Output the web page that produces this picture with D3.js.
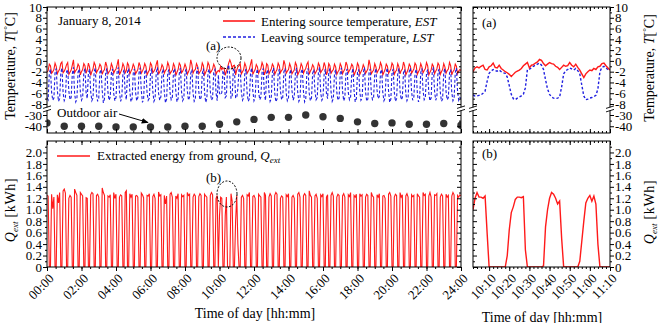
<!DOCTYPE html>
<html>
<head>
<meta charset="utf-8">
<script src="https://cdn.jsdelivr.net/npm/d3@7"></script>
<style>
  body { margin: 0; background: #fff; }
  svg { display: block; font-family: 'Liberation Serif', 'Times New Roman', serif; }
</style>
</head>
<body>
<div id="chart"></div>
<script>
// whole day, one reading every 4 minutes (00:00 .. 24:00)
var dayStepMin = 4

var dayQext = [
  1.25,1.24,0,0,1.27,1.02,1.22,0,0,1.26,1.12,1.30,0,0,1.33,
  1.36,1.29,0,0,1.20,1.25,1.22,0,0,1.36,1.30,1.25,0,0,1.30,
  1.27,1.24,0,0,1.21,1.20,0,0,1.26,1.30,1.28,0,0,1.25,1.27,
  1.22,0,0,1.38,1.30,1.25,0,0,1.24,1.22,1.26,0,0,1.30,1.20,
  1.27,0,0,1.22,1.26,1.24,0,0,1.30,1.33,0,0,1.28,1.22,1.27,
  0,0,1.24,1.25,1.22,0,0,1.29,1.26,1.21,0,0,1.25,1.24,1.28,
  0,0,1.23,1.27,1.20,0,0,1.31,1.24,1.26,0,0,1.25,1.10,1.24,
  0,0,1.27,1.30,1.22,0,0,1.24,1.20,1.28,0,0,1.26,1.23,1.25,
  0,0,1.30,1.25,1.27,0,0,1.22,1.27,1.24,0,0,1.23,1.28,1.25,
  0,0,1.27,1.24,1.22,0,0,1.25,1.30,1.26,0,0,1.20,1.25,0,
  0.90,1.22,1.20,0,0,0.90,1.22,0,0,0,1.28,1.15,0,0,0.80,
  1.25,0.40,0,0,1.22,1.25,1.20,0,0,1.26,1.24,1.30,0,0,1.23,
  1.25,1.20,0,0,1.27,1.24,1.22,0,0,1.30,1.25,0,0,1.22,1.28,
  1.24,0,0,1.25,1.30,1.27,0,0,1.20,1.24,1.22,0,0,1.26,1.23,
  1.28,0,0,1.22,1.25,1.20,0,0,1.27,1.30,1.22,0,0,1.24,1.28,
  1.25,0,0,1.33,1.25,1.22,0,0,1.24,1.27,1.20,0,0,1.26,1.23,
  1.28,0,0,1.22,1.26,0,0,1.25,1.30,1.24,0,0,1.22,1.27,1.25,
  0,0,1.24,1.28,1.22,0,0,1.26,1.23,1.30,0,0,1.25,1.22,1.27,
  0,0,1.28,1.24,1.26,0,0,1.22,1.27,1.25,0,0,1.30,1.24,1.22,
  0,0,1.26,1.22,1.28,0,0,1.24,1.25,1.20,0,0,1.27,1.30,1.24,
  0,0,1.22,1.27,1.25,0,0,1.30,1.22,1.26,0,0,1.24,1.28,1.22,
  0,0,1.26,1.23,1.25,0,0,1.28,1.24,1.22,0,0,1.30,1.25,1.27,
  0,0,1.24,1.30,1.22,0,0,1.26,1.25,1.28,0,0,1.22,1.27,1.24,
  0,0,1.27,1.22,1.25,0,0,1.24,1.30,1.26,0,0,1.25,1.22,1.26,
  1.24
]

var dayEST = [
  -2.1,-1.8,-0.6,-0.9,-2.3,-2.0,-1.6,-0.4,-1.0,-2.4,-1.9,-1.5,-0.5,-0.2,-2.2,
  -1.9,-1.4,-0.7,-0.3,-2.5,-2.1,-1.7,-0.8,0.2,-2.2,-1.8,-1.5,-0.6,-1.0,-2.6,
  -2.0,-1.6,-0.5,-0.9,-2.3,-1.7,-0.4,-1.1,-2.7,-2.0,-1.5,-0.3,-0.8,-2.2,-1.8,
  -1.4,-0.6,-1.0,-2.5,-1.9,-1.6,-0.2,-0.9,-2.4,-2.0,-1.7,-0.5,-1.1,-2.3,-1.8,
  -1.5,-0.7,0.3,-2.6,-2.1,-1.6,-0.5,-1.0,-2.2,-1.8,-0.4,-0.8,-2.5,-1.9,-1.5,
  -0.6,-1.1,-2.4,-2.0,-1.6,-0.3,-0.9,-2.3,-1.9,-1.4,-0.5,-1.0,-2.6,-2.1,-1.7,
  -0.4,-0.8,-2.2,-1.9,-1.5,-0.6,0.1,-2.5,-2.0,-1.6,-0.7,-1.1,-2.3,-1.8,-1.5,
  -0.3,-0.9,-2.4,-2.0,-1.7,-0.5,-1.0,-2.7,-2.1,-1.6,-0.4,-0.8,-2.2,-1.9,-1.4,
  -0.6,-1.2,-2.5,-2.0,-1.5,0.2,-0.7,-2.3,-1.8,-1.6,-0.5,-1.0,-2.4,-2.0,-1.7,
  -0.4,-0.9,-2.6,-2.1,-1.6,-0.3,-0.8,-2.2,-1.9,-1.5,-0.6,-1.1,-2.5,-2.0,-1.8,
  -2.0,-1.0,-1.6,-1.3,-1.4,-2.7,-1.9,-1.3,-0.4,0.2,-0.4,-1.4,-0.9,-0.8,-2.6,
  -1.7,-1.1,-0.9,-0.5,-2.4,-2.0,-1.6,-0.4,-1.0,-2.3,-1.9,-1.5,-0.6,0.3,-2.5,
  -2.0,-1.6,-0.7,-1.1,-2.3,-1.8,-1.4,-0.3,-0.9,-2.6,-2.0,-0.5,-0.8,-2.4,-1.9,
  -1.5,-0.6,-1.0,-2.5,-2.0,-1.6,-0.4,-0.9,-2.2,-1.8,-1.5,0.1,-0.7,-2.3,-1.9,
  -1.6,-0.5,-1.1,-2.4,-2.0,-1.7,-0.3,-0.8,-2.6,-2.1,-1.6,-0.5,-1.0,-2.3,-1.8,
  -1.4,-0.6,-0.2,-2.5,-1.9,-1.5,-0.7,-1.1,-2.4,-2.0,-1.6,-0.4,-0.9,-2.2,-1.8,
  -1.5,-0.3,-1.0,-2.6,-2.0,-0.5,-0.9,-2.3,-1.9,-1.6,-0.6,-1.1,-2.5,-2.0,-1.7,
  -0.5,-1.0,-2.4,-1.9,-1.5,-0.2,-0.8,-2.2,-1.8,-1.4,-0.6,-1.0,-2.7,-2.1,-1.6,
  -0.4,-0.9,-2.5,-2.0,-1.6,-0.7,-1.2,-2.3,-1.9,-1.5,0.2,-0.8,-2.4,-2.0,-1.7,
  -0.5,-1.1,-2.2,-1.8,-1.4,-0.3,-0.9,-2.6,-2.1,-1.6,-0.6,-1.0,-2.3,-1.9,-1.5,
  -0.4,-0.8,-2.5,-2.0,-1.7,-0.5,-1.1,-2.4,-1.8,-1.5,-0.2,-0.9,-2.6,-2.1,-1.6,
  -0.6,-1.0,-2.3,-1.9,-1.5,-0.4,-0.8,-2.5,-2.0,-1.6,-0.5,-1.1,-2.2,-1.8,-1.4,
  -0.3,-0.9,-2.6,-2.1,-1.7,-0.6,-1.0,-2.4,-1.9,-1.5,-0.4,-0.8,-2.5,-2.0,-1.6,
  -0.5,-1.1,-2.3,-1.8,-1.5,-0.3,-0.9,-2.6,-2.0,-1.7,-0.6,-1.0,-2.4,-1.9,-1.6,
  -1.8
]

var dayLST = [
  -6.8,-7.2,-2.3,-1.5,-5.8,-7.3,-6.9,-2.1,-1.4,-5.5,-7.5,-7.0,-2.2,-1.3,-5.9,
  -7.4,-6.9,-2.0,-1.6,-5.6,-7.2,-6.8,-2.4,-1.2,-6.0,-7.6,-7.1,-2.1,-1.5,-5.7,
  -7.3,-6.8,-2.2,-1.4,-5.9,-7.0,-2.3,-1.5,-5.7,-7.4,-6.9,-2.0,-1.3,-6.1,-7.5,
  -6.9,-2.1,-1.6,-5.5,-7.8,-7.0,-2.3,-1.4,-5.8,-7.3,-6.7,-2.2,-1.5,-6.0,-7.4,
  -6.8,-2.0,-1.2,-5.7,-7.5,-6.9,-2.4,-1.6,-6.1,-7.2,-2.1,-1.4,-5.6,-7.6,-7.0,
  -2.3,-1.5,-5.8,-7.4,-6.8,-2.2,-1.3,-5.5,-7.7,-7.1,-2.0,-1.6,-5.9,-7.3,-6.9,
  -2.4,-1.4,-5.6,-7.5,-7.0,-2.1,-1.2,-6.0,-7.3,-6.7,-2.3,-1.5,-5.7,-7.8,-7.1,
  -2.2,-1.6,-5.9,-7.2,-6.8,-2.0,-1.4,-5.6,-7.6,-7.0,-2.4,-1.3,-5.8,-7.4,-6.9,
  -2.1,-1.5,-5.5,-7.3,-6.7,-2.3,-1.6,-6.0,-7.5,-7.1,-2.2,-1.2,-5.7,-7.2,-6.8,
  -2.4,-1.4,-5.8,-7.7,-7.0,-2.1,-1.5,-5.6,-7.3,-6.9,-2.0,-1.6,-6.0,-7.4,-2.6,
  -6.0,-6.3,-5.9,-1.8,-2.3,-6.8,-6.5,-1.5,-0.7,-3.0,-6.9,-6.8,-1.6,-1.4,-6.8,
  -6.9,-5.0,-1.6,-1.4,-5.7,-7.3,-6.8,-2.2,-1.5,-5.9,-7.5,-7.0,-2.1,-1.3,-5.6,
  -7.4,-6.9,-2.3,-1.5,-5.8,-7.2,-6.7,-2.0,-1.4,-6.1,-7.3,-2.2,-1.6,-5.7,-7.5,
  -7.0,-2.1,-1.3,-5.9,-7.6,-7.1,-2.4,-1.5,-5.6,-7.2,-6.8,-2.0,-1.4,-6.0,-7.4,
  -6.9,-2.3,-1.6,-5.5,-7.3,-6.7,-2.2,-1.3,-5.8,-7.5,-7.0,-2.1,-1.5,-5.7,-7.6,
  -7.1,-2.0,-1.4,-6.0,-7.4,-6.9,-2.3,-1.6,-5.6,-7.2,-6.8,-2.2,-1.2,-5.9,-7.3,
  -6.8,-2.4,-1.5,-6.1,-7.0,-2.1,-1.4,-5.7,-7.5,-7.0,-2.3,-1.6,-5.8,-7.3,-6.9,
  -2.2,-1.3,-5.6,-7.4,-6.8,-2.0,-1.5,-5.9,-7.2,-6.7,-2.4,-1.4,-5.5,-7.6,-7.0,
  -2.1,-1.6,-5.8,-7.3,-6.9,-2.3,-1.2,-5.7,-7.5,-7.1,-2.2,-1.5,-6.0,-7.2,-6.8,
  -2.4,-1.4,-5.5,-7.0,-6.6,-2.1,-1.6,-5.9,-7.4,-6.9,-2.0,-1.3,-5.6,-7.7,-7.1,
  -2.2,-1.5,-5.8,-7.5,-7.0,-2.3,-1.4,-5.6,-7.2,-6.8,-2.1,-1.6,-6.1,-7.4,-6.9,
  -2.0,-1.3,-5.7,-7.3,-6.7,-2.4,-1.5,-5.9,-7.6,-7.0,-2.2,-1.4,-5.5,-7.2,-6.8,
  -2.3,-1.6,-6.0,-7.4,-6.9,-2.1,-1.2,-5.6,-7.3,-6.7,-2.0,-1.5,-5.8,-7.5,-7.1,
  -2.1,-1.4,-5.7,-7.2,-6.8,-2.3,-1.6,-5.9,-7.4,-6.9,-2.2,-1.3,-5.6,-7.3,-6.8,
  -7.0
]

// outdoor air, hourly
var outdoorHour = [0,1,2,3,4,5,6,7,8,9,10,11,12,13,14,15,16,17,18,19,20,21,22,23,24]
var outdoorAir = [-37.0,-40.0,-40.0,-40.0,-40.6,-40.6,-40.6,-40.6,-40.0,-40.0,-38.2,-36.1,-33.9,
  -32.1,-32.1,-30.0,-31.5,-33.0,-36.1,-37.5,-37.0,-38.2,-38.2,-37.5,-39.1]

// zoomed window, one reading per minute from 10:02
var zoomStartMin = 602
var zoomQext = [
  1.0,1.2,1.3,1.22,1.22,1.2,1.24,0.6,0,0,
  0,0,0,0,0,0,0,0.2,0.65,0.95,
  1.05,1.18,1.22,1.22,1.21,1.23,0.3,0,0,0,
  0,0,0,0,0,0.02,0.7,1.0,1.2,1.3,
  1.27,1.2,1.1,1.15,0.5,0,0,0,0,0,
  0,0,0,0.1,0.45,0.8,1.12,1.2,1.25,1.15,
  1.24,1.1,0.4,0,0,0,0,0,0
]
var zoomEST = [
  -2.0,-1.3,-1.1,-1.3,-1.0,-0.8,-1.6,-1.7,-1.1,-0.9,
  -0.4,-1.2,-1.3,-0.8,-1.4,-1.7,-2.0,-2.2,-2.5,-2.9,
  -2.5,-2.1,-1.9,-1.7,-1.4,-0.9,-0.6,-0.3,-1.3,-0.8,
  -0.7,-0.4,-0.2,0.3,0.1,-0.5,-0.9,-0.6,-0.3,-0.5,
  -0.6,-1.0,-1.2,-1.6,-1.2,-0.8,-1.0,-0.9,-0.3,-0.8,
  -1.1,-0.6,-1.2,-1.7,-2.4,-3.1,-2.4,-2.0,-1.7,-1.8,
  -1.4,-1.6,-1.1,-1.0,-0.5,-0.4,-0.9,-1.3,-1.7
]
var zoomLST = [
  -6.3,-6.5,-6.5,-6.4,-6.3,-6.0,-5.6,-3.8,-2.3,-1.9,
  -1.6,-1.8,-1.9,-1.7,-2.0,-2.2,-2.3,-3.0,-4.6,-6.2,
  -7.0,-7.2,-6.9,-6.7,-6.5,-6.2,-5.0,-1.6,-1.5,-1.3,
  -1.0,-0.8,-0.6,-0.4,-0.8,-1.6,-3.5,-5.2,-6.2,-6.7,
  -6.9,-7.0,-6.9,-6.7,-4.8,-2.4,-1.8,-1.6,-1.3,-1.5,
  -1.7,-1.4,-1.8,-2.4,-4.5,-6.5,-7.2,-7.1,-6.9,-6.8,
  -6.6,-6.4,-5.2,-2.0,-1.2,-1.0,-1.3,-1.6,-1.8
]

var tempTicks = [10, 8, 6, 4, 2, 0, -2, -4, -6, -8, -30, -40]
var tempMinor = [9, 7, 5, 3, 1, -1, -3, -5, -7, -35]
var qTicks = [0, 0.2, 0.4, 0.6, 0.8, 1.0, 1.2, 1.4, 1.6, 1.8, 2.0]
var qMinor = [0.1, 0.3, 0.5, 0.7, 0.9, 1.1, 1.3, 1.5, 1.7, 1.9, 2.1]
var dayTicks = [0, 120, 240, 360, 480, 600, 720, 840, 960, 1080, 1200, 1320, 1440]
var dayTickLabels = ['00:00','02:00','04:00','06:00','08:00','10:00','12:00','14:00','16:00','18:00','20:00','22:00','24:00']
var zoomTicks = [610, 620, 630, 640, 650, 660, 670]
var zoomTickLabels = ['10:10','10:20','10:30','10:40','10:50','11:00','11:10']

var RED = '#ff1a1a'
var BLUE = '#1f1fe0'

var svg = d3.select('#chart').append('svg').attr('width', 661).attr('height', 323)
  .attr('font-family', 'Liberation Serif, Times New Roman, serif')

var xDay = d3.scaleLinear().domain([0, 1440]).range([47, 461])
var xZoom = d3.scaleLinear().domain([602, 670]).range([473, 610])
// broken temperature axis: 10..-8 on top, -30..-40 squeezed below
var yT = d3.scaleLinear().domain([-46, -30, -9, 10]).range([133, 115, 109.4, 7])
var yQ = d3.scaleLinear().domain([0, 2.2]).range([267, 141])

var panels = [
  {id: 'tl', x0: 47, x1: 461, y0: 7, y1: 133},
  {id: 'bl', x0: 47, x1: 461, y0: 141, y1: 267},
  {id: 'tr', x0: 473, x1: 610, y0: 7, y1: 133},
  {id: 'br', x0: 473, x1: 610, y0: 141, y1: 267}
]

var defs = svg.append('defs')
panels.forEach(function (p) {
  defs.append('clipPath').attr('id', 'clip-' + p.id)
    .append('rect').attr('x', p.x0).attr('y', p.y0).attr('width', p.x1 - p.x0).attr('height', p.y1 - p.y0)
})
defs.append('marker').attr('id', 'arrow').attr('viewBox', '0 0 10 10')
  .attr('refX', 9).attr('refY', 5).attr('markerWidth', 7).attr('markerHeight', 7)
  .attr('orient', 'auto')
  .append('path').attr('d', 'M0,1 L10,5 L0,9 z').attr('fill', '#000')

/**
 * lines
 */

var dayLine = function (y) {
  return d3.line().x(function (d, i) { return xDay(i * dayStepMin) }).y(function (d) { return y(d) })
}
var zoomLine = function (y) {
  return d3.line().x(function (d, i) { return xZoom(zoomStartMin + i) }).y(function (d) { return y(d) })
}

function plot(panelId, data, line, color, width, dash) {
  svg.append('path')
    .attr('clip-path', 'url(#clip-' + panelId + ')')
    .attr('d', line(data))
    .attr('fill', 'none')
    .attr('stroke', color)
    .attr('stroke-width', width)
    .attr('stroke-dasharray', dash || null)
}

plot('tl', dayEST, dayLine(yT), RED, 1.1)
plot('tl', dayLST, dayLine(yT), BLUE, 1.1, '3,2')
plot('bl', dayQext, dayLine(yQ), RED, 1.1)
plot('tr', zoomLST, zoomLine(yT), BLUE, 1.4, '2.5,2')
plot('tr', zoomEST, zoomLine(yT), RED, 1.4)
plot('br', zoomQext, zoomLine(yQ), RED, 1.4)

svg.append('g').selectAll('circle')
  .data(outdoorAir)
  .enter().append('circle')
  .attr('clip-path', 'url(#clip-tl)')
  .attr('cx', function (d, i) { return xDay(outdoorHour[i] * 60) })
  .attr('cy', function (d) { return yT(d) })
  .attr('r', 3.7)
  .attr('fill', '#333')

/**
 * frames and axes
 */

panels.forEach(function (p) {
  svg.append('rect').attr('x', p.x0).attr('y', p.y0).attr('width', p.x1 - p.x0).attr('height', p.y1 - p.y0)
    .attr('fill', 'none').attr('stroke', '#000').attr('stroke-width', 1)
})

function addAxis(axisFn, scale, x, y, values, size, fmt) {
  var ax = axisFn(scale).tickValues(values).tickSize(size).tickSizeOuter(0).tickPadding(1)
    .tickFormat(fmt || function () { return '' })
  var g = svg.append('g').attr('transform', 'translate(' + x + ',' + y + ')').call(ax)
  g.select('.domain').remove()
  g.attr('font-size', 13).attr('font-family', null)
  g.selectAll('text').attr('fill', '#000')
  return g
}

var fmtT = function (d) { return String(d) }
var fmtQ = function (d) { return d === 0 ? '0' : d.toFixed(1) }
var dayMinor = d3.range(0, 1441, 30)
var zoomMinor = d3.range(602, 671, 2)

function rotateLabels(g) {
  g.selectAll('text')
    .attr('x', 0).attr('y', 0).attr('dy', '0.35em')
    .attr('text-anchor', 'end')
    .attr('transform', 'translate(4,9) rotate(-45)')
}

// top left
addAxis(d3.axisLeft, yT, 47, 0, tempTicks, 4, fmtT)
addAxis(d3.axisLeft, yT, 47, 0, tempMinor, 2)
addAxis(d3.axisRight, yT, 461, 0, tempTicks, -4)
addAxis(d3.axisRight, yT, 461, 0, tempMinor, -2)
addAxis(d3.axisTop, xDay, 0, 7, dayTicks, -4)
addAxis(d3.axisTop, xDay, 0, 7, dayMinor, -2)
addAxis(d3.axisBottom, xDay, 0, 133, dayTicks, -4)
addAxis(d3.axisBottom, xDay, 0, 133, dayMinor, -2)

// bottom left
addAxis(d3.axisLeft, yQ, 47, 0, qTicks, 4, fmtQ)
addAxis(d3.axisLeft, yQ, 47, 0, qMinor, 2)
addAxis(d3.axisRight, yQ, 461, 0, qTicks, -4)
addAxis(d3.axisRight, yQ, 461, 0, qMinor, -2)
addAxis(d3.axisTop, xDay, 0, 141, dayTicks, -4)
addAxis(d3.axisTop, xDay, 0, 141, dayMinor, -2)
rotateLabels(addAxis(d3.axisBottom, xDay, 0, 267, dayTicks, 4, function (d, i) { return dayTickLabels[i] }))
addAxis(d3.axisBottom, xDay, 0, 267, dayMinor, 2)

// top right
addAxis(d3.axisRight, yT, 610, 0, tempTicks, 4, fmtT)
addAxis(d3.axisRight, yT, 610, 0, tempMinor, 2)
addAxis(d3.axisLeft, yT, 473, 0, tempTicks, -4)
addAxis(d3.axisLeft, yT, 473, 0, tempMinor, -2)
addAxis(d3.axisTop, xZoom, 0, 7, zoomTicks, -4)
addAxis(d3.axisTop, xZoom, 0, 7, zoomMinor, -2)
addAxis(d3.axisBottom, xZoom, 0, 133, zoomTicks, -4)
addAxis(d3.axisBottom, xZoom, 0, 133, zoomMinor, -2)

// bottom right
addAxis(d3.axisRight, yQ, 610, 0, qTicks, 4, fmtQ)
addAxis(d3.axisRight, yQ, 610, 0, qMinor, 2)
addAxis(d3.axisLeft, yQ, 473, 0, qTicks, -4)
addAxis(d3.axisLeft, yQ, 473, 0, qMinor, -2)
addAxis(d3.axisTop, xZoom, 0, 141, zoomTicks, -4)
addAxis(d3.axisTop, xZoom, 0, 141, zoomMinor, -2)
rotateLabels(addAxis(d3.axisBottom, xZoom, 0, 267, zoomTicks, 4, function (d, i) { return zoomTickLabels[i] }))
addAxis(d3.axisBottom, xZoom, 0, 267, zoomMinor, 2)

// axis break marks
function breakMark(x, y) {
  svg.append('rect').attr('x', x - 4).attr('y', y - 1.5).attr('width', 8).attr('height', 3).attr('fill', '#fff')
  svg.append('path')
    .attr('d', 'M' + (x - 4) + ',' + (y - 0.5) + 'l8,-2.5M' + (x - 4) + ',' + (y + 3) + 'l8,-2.5')
    .attr('stroke', '#000').attr('stroke-width', 0.9).attr('fill', 'none')
}
var breakY = yT(-9) - 0.5
;[47, 461, 473, 610].forEach(function (x) { breakMark(x, breakY) })

/**
 * texts
 */

function label(x, y, size) {
  return svg.append('text').attr('x', x).attr('y', y).attr('font-size', size || 13).attr('fill', '#000')
}

label(58, 25).text('January 8, 2014')

// legends
svg.append('line').attr('x1', 223).attr('x2', 255).attr('y1', 21).attr('y2', 21)
  .attr('stroke', RED).attr('stroke-width', 1.6)
var t1 = label(261, 25.5)
t1.append('tspan').text('Entering source temperature, ')
t1.append('tspan').attr('font-style', 'italic').text('EST')

svg.append('line').attr('x1', 223).attr('x2', 255).attr('y1', 37).attr('y2', 37)
  .attr('stroke', BLUE).attr('stroke-width', 1.4).attr('stroke-dasharray', '3,2')
var t2 = label(261, 41.5)
t2.append('tspan').text('Leaving source temperature, ')
t2.append('tspan').attr('font-style', 'italic').text('LST')

svg.append('line').attr('x1', 57).attr('x2', 90).attr('y1', 156).attr('y2', 156)
  .attr('stroke', RED).attr('stroke-width', 1.6)
var t3 = label(97, 160)
t3.append('tspan').text('Extracted energy from ground, ')
t3.append('tspan').attr('font-style', 'italic').text('Q')
t3.append('tspan').attr('font-style', 'italic').attr('font-size', 9).attr('dy', 3).text('ext')

// markers of zoomed spots
label(206, 50).text('(a)')
svg.append('ellipse').attr('cx', 229).attr('cy', 58).attr('rx', 12).attr('ry', 11)
  .attr('fill', 'none').attr('stroke', '#000').attr('stroke-width', 1).attr('stroke-dasharray', '2,1.5')
label(206, 182).text('(b)')
svg.append('ellipse').attr('cx', 227).attr('cy', 194).attr('rx', 10).attr('ry', 13)
  .attr('fill', 'none').attr('stroke', '#000').attr('stroke-width', 1).attr('stroke-dasharray', '2,1.5')
label(482, 27).text('(a)')
label(482, 158).text('(b)')

label(57, 117).text('Outdoor air')
svg.append('line').attr('x1', 119).attr('y1', 114).attr('x2', 148).attr('y2', 122.5)
  .attr('stroke', '#000').attr('stroke-width', 1).attr('marker-end', 'url(#arrow)')

// axis titles
function tempTitle(x, y) {
  var t = svg.append('text').attr('transform', 'translate(' + x + ',' + y + ') rotate(-90)')
    .attr('text-anchor', 'middle').attr('font-size', 14).attr('fill', '#000')
  t.append('tspan').text('Temperature, ')
  t.append('tspan').attr('font-style', 'italic').text('T')
  t.append('tspan').text('[')
  t.append('tspan').attr('font-size', 9).attr('dy', -5).text('°')
  t.append('tspan').attr('dy', 5).text('C]')
}
function qTitle(x, y) {
  var t = svg.append('text').attr('transform', 'translate(' + x + ',' + y + ') rotate(-90)')
    .attr('text-anchor', 'middle').attr('font-size', 14).attr('fill', '#000')
  t.append('tspan').attr('font-style', 'italic').text('Q')
  t.append('tspan').attr('font-style', 'italic').attr('font-size', 9).attr('dy', 3).text('ext')
  t.append('tspan').attr('dy', -3).attr('letter-spacing', 0.6).text(' [kWh]')
}
tempTitle(15, 66)
qTitle(15, 210)
tempTitle(654, 68)
qTitle(654, 212)

label(255, 318, 14).attr('text-anchor', 'middle').text('Time of day [hh:mm]')
label(542, 322, 14).attr('text-anchor', 'middle').text('Time of day [hh:mm]')
</script>
</body>
</html>
